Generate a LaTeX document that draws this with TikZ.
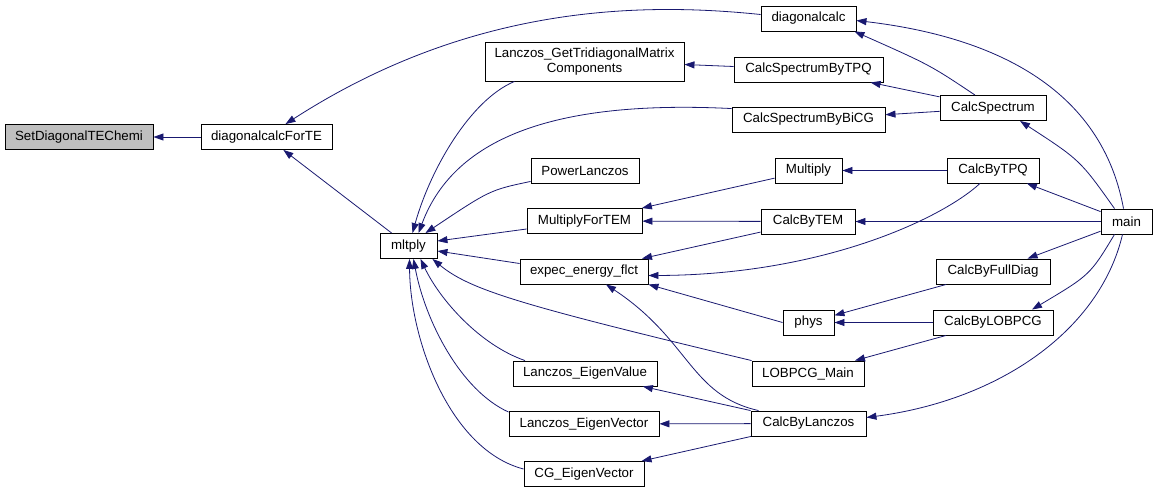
\documentclass[tikz,border=0pt]{standalone}
\usepackage{fontspec}
\setmainfont{Liberation Sans}
\usepackage{tikz}
\usetikzlibrary{arrows.meta,calc,positioning}
\definecolor{call-blue}{HTML}{191970}
\definecolor{self-grey}{HTML}{BFBFBF}

\begin{document}
\begin{tikzpicture}[x=1pt,y=-1pt,
  fn/.style={draw=black,fill=white,line width=0.9,minimum height=25,inner sep=0,
    font=\fontsize{13.3}{15}\selectfont,align=center},
  call/.style={draw=call-blue,line width=0.8,-{Triangle[length=10pt,width=7pt]}}]
  \useasboundingbox (0,0) rectangle (1157,493);

  % Funktionen, Spalte fuer Spalte
  \node[fn,fill=self-grey,minimum width=148] (sdt) at (79,137) {SetDiagonalTEChemi};
  \node[fn,minimum width=131] (dfte) at (266.5,137) {diagonalcalcForTE};
  \node[fn,minimum width=57] (mlt) at (408.5,246) {mltply};

  \node[fn,minimum width=199,minimum height=39] (lgt) at (584.5,61.5) {Lanczos\_GetTridiagonalMatrix\\Components};
  \node[fn,minimum width=108] (pl) at (585,170.5) {PowerLanczos};
  \node[fn,minimum width=115] (mftem) at (584.5,221) {MultiplyForTEM};
  \node[fn,minimum width=128] (eef) at (584,271.5) {expec\_energy\_flct};
  \node[fn,minimum width=144] (lev) at (585,373.5) {Lanczos\_EigenValue};
  \node[fn,minimum width=150] (levec) at (584,424) {Lanczos\_EigenVector};
  \node[fn,minimum width=120] (cge) at (584,474) {CG\_EigenVector};

  \node[fn,minimum width=95] (dcalc) at (808.5,18.5) {diagonalcalc};
  \node[fn,minimum width=149] (cstpq) at (808.5,69.5) {CalcSpectrumByTPQ};
  \node[fn,minimum width=153] (csbicg) at (808.5,119.5) {CalcSpectrumByBiCG};
  \node[fn,minimum width=67] (mult) at (808.5,170.5) {Multiply};
  \node[fn,minimum width=94] (cbtem) at (808,221.5) {CalcByTEM};
  \node[fn,minimum width=51] (phys) at (808.5,322.5) {phys};
  \node[fn,minimum width=112] (lobm) at (808,373.5) {LOBPCG\_Main};
  \node[fn,minimum width=115] (cbl) at (808.5,423.5) {CalcByLanczos};

  \node[fn,minimum width=106] (cs) at (993,108) {CalcSpectrum};
  \node[fn,minimum width=92] (cbtpq) at (993,170.5) {CalcByTPQ};
  \node[fn,minimum width=114] (cbfd) at (993,271.5) {CalcByFullDiag};
  \node[fn,minimum width=120] (cblob) at (993,322.5) {CalcByLOBPCG};

  \node[fn,minimum width=51] (main) at (1126.5,221.5) {main};

  % Aufrufe: Pfeil zeigt auf die aufgerufene Funktion
  \draw[call] (dfte) -- (sdt);
  \draw[call] (mlt) -- (dfte);
  \draw[call] ([yshift=4]dcalc.west) .. controls (640,2) and (470,5) .. ([xshift=19]dfte.north);

  \draw[call] ([xshift=-70]lgt.south) .. controls (470,100) and (430,170) .. ([xshift=4]mlt.north);
  \draw[call] ([yshift=-2]csbicg.north west) .. controls (560,100) and (455,135) .. ([xshift=10]mlt.north);
  \draw[call] ([yshift=2]pl.south west) .. controls (490,190) .. ([xshift=-12]mlt.north east);
  \draw[call] ([yshift=-8]mftem.west) -- ([yshift=5]mlt.east);
  \draw[call] ([yshift=8]eef.west) -- ([yshift=-5]mlt.east);
  \draw[call] (lobm.north west) .. controls (520,305) and (470,290) .. ([xshift=-5]mlt.south east);
  \draw[call] ([xshift=-60]lev.north) .. controls (480,345) and (440,300) .. ([xshift=12]mlt.south);
  \draw[call] ([yshift=-1]levec.north west) .. controls (460,390) and (425,320) .. ([xshift=5]mlt.south);
  \draw[call] ([yshift=5]cge.west) .. controls (450,450) and (410,340) .. ([xshift=1]mlt.south);

  \draw[call] ([yshift=3]cstpq.west) -- ([yshift=-3]lgt.east);
  \draw[call] ([xshift=-18]cs.north) .. controls (930,65) .. ([xshift=-2]dcalc.south east);
  \draw[call] (cs) -- (cstpq);
  \draw[call] (cs) -- (csbicg);
  \draw[call] ([xshift=-3]main.north) .. controls (1100,80) and (980,35) .. ([yshift=-2]dcalc.east);
  \draw[call] ([xshift=-12]main.north) .. controls (1080,160) .. ([xshift=27]cs.south);

  \draw[call] (mult) -- (mftem);
  \draw[call] (cbtpq) -- (mult);
  \draw[call] ([xshift=-13]cbtpq.south) .. controls (940,220) and (820,275) .. ([yshift=-4]eef.east);
  \draw[call] (cbtem) -- (mftem);
  \draw[call] (cbtem) -- (eef);
  \draw[call] (main) -- (cbtpq);
  \draw[call] (main) -- (cbtem);
  \draw[call] (main) -- (cbfd);
  \draw[call] ([xshift=-12]main.south) .. controls (1090,275) .. ([xshift=39]cblob.north);
  \draw[call] ([xshift=-4]main.south) .. controls (1100,330) and (1000,400) .. ([yshift=6]cbl.east);

  \draw[call] (phys.west) -- (eef.south east);
  \draw[call] (cbfd) -- (phys);
  \draw[call] (cblob) -- (phys);
  \draw[call] (cblob) -- (lobm);
  \draw[call] ([xshift=-50]cbl.north) .. controls (690,395) and (690,340) .. ([xshift=22]eef.south);
  \draw[call] (cbl) -- (lev);
  \draw[call] (cbl) -- (levec);
  \draw[call] (cbl) -- (cge);
\end{tikzpicture}
\end{document}
